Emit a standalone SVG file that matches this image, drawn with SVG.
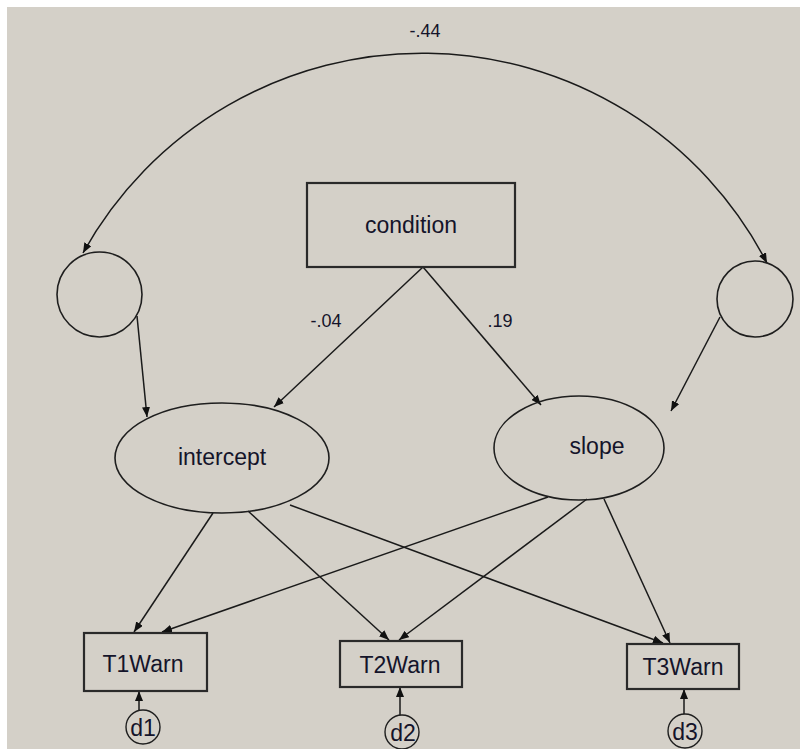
<svg xmlns="http://www.w3.org/2000/svg" width="805" height="749" viewBox="0 0 805 749">
  <style>
    .bg { fill: #d4d0c8; }
    .obs { fill: none; stroke: #2a2a2a; stroke-width: 2.2; }
    .lat { fill: none; stroke: #1e1e1e; stroke-width: 1.6; }
    .err { fill: none; stroke: #1e1e1e; stroke-width: 1.4; }
    .edge { fill: none; stroke: #1a1a1a; stroke-width: 1.5; marker-end: url(#arrow); }
    .lbl { font-family: "Liberation Sans", Arial, sans-serif; font-size: 23px; fill: #14142a; text-anchor: middle; }
    .coef { font-family: "Liberation Sans", Arial, sans-serif; font-size: 18px; fill: #14142a; text-anchor: middle; }
  </style>
  <defs>
    <marker id="arrow" viewBox="0 0 10 8" refX="10" refY="4" markerWidth="10" markerHeight="8" markerUnits="userSpaceOnUse" orient="auto-start-reverse">
      <path d="M0,0 L10,4 L0,8 z" fill="#111"/>
    </marker>
  </defs>

  <!-- canvas -->
  <rect width="805" height="749" fill="#ffffff"/>
  <rect class="bg" x="7" y="7" width="793" height="742"/>

  <!-- connectors -->
  <g id="connectors">
    <!-- covariance between the two disturbances -->
    <path class="edge" d="M 83 253 A 388 388 0 0 1 767 263" marker-start="url(#arrow)"/>
    <!-- condition to growth factors -->
    <line class="edge" x1="423" y1="267" x2="274" y2="407"/>
    <line class="edge" x1="423" y1="267" x2="541" y2="405"/>
    <!-- disturbances to growth factors -->
    <line class="edge" x1="137" y1="316" x2="147" y2="417"/>
    <line class="edge" x1="720" y1="317" x2="671" y2="411"/>
    <!-- intercept loadings -->
    <line class="edge" x1="213" y1="513" x2="134" y2="632"/>
    <line class="edge" x1="248" y1="511" x2="389" y2="640"/>
    <line class="edge" x1="290" y1="505" x2="663" y2="643"/>
    <!-- slope loadings -->
    <line class="edge" x1="548" y1="497" x2="162" y2="632"/>
    <line class="edge" x1="587" y1="499" x2="399" y2="640"/>
    <line class="edge" x1="604" y1="499" x2="670" y2="643"/>
    <!-- residuals -->
    <line class="edge" x1="139" y1="710" x2="139" y2="691"/>
    <line class="edge" x1="400" y1="715" x2="400" y2="687"/>
    <line class="edge" x1="684" y1="714" x2="684" y2="689"/>
    <!-- coefficients -->
    <text class="coef" x="425" y="37">-.44</text>
    <text class="coef" x="326" y="327">-.04</text>
    <text class="coef" x="500" y="327">.19</text>
  </g>

  <g id="condition">
    <rect class="obs" x="307" y="183" width="208" height="84"/>
    <text class="lbl" x="411" y="233">condition</text>
  </g>

  <g id="e_intercept">
    <circle class="lat" cx="99.5" cy="294.5" r="42.5"/>
  </g>

  <g id="e_slope">
    <circle class="lat" cx="755" cy="299" r="38"/>
  </g>

  <g id="intercept">
    <ellipse class="lat" cx="222" cy="458" rx="107" ry="55"/>
    <text class="lbl" x="222" y="465">intercept</text>
  </g>

  <g id="slope">
    <ellipse class="lat" cx="579" cy="448" rx="85" ry="52"/>
    <text class="lbl" x="597" y="454">slope</text>
  </g>

  <g id="T1Warn">
    <rect class="obs" x="84" y="633" width="123" height="58"/>
    <text class="lbl" x="143" y="672">T1Warn</text>
  </g>

  <g id="T2Warn">
    <rect class="obs" x="340" y="641" width="122" height="46"/>
    <text class="lbl" x="400" y="673">T2Warn</text>
  </g>

  <g id="T3Warn">
    <rect class="obs" x="627" y="644" width="112" height="45"/>
    <text class="lbl" x="683" y="675">T3Warn</text>
  </g>

  <g id="d1">
    <circle class="err" cx="143" cy="727" r="17"/>
    <text class="lbl" x="143" y="736">d1</text>
  </g>

  <g id="d2">
    <circle class="err" cx="402" cy="732" r="17"/>
    <text class="lbl" x="403" y="741">d2</text>
  </g>

  <g id="d3">
    <circle class="err" cx="685" cy="731" r="17"/>
    <text class="lbl" x="685" y="740">d3</text>
  </g>
</svg>
